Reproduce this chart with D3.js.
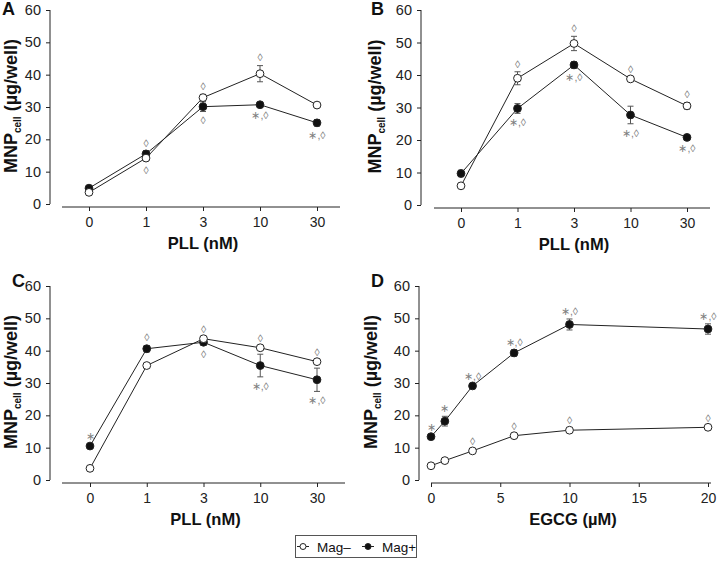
<!DOCTYPE html>
<html><head><meta charset="utf-8">
<script src="https://cdn.jsdelivr.net/npm/d3@7/dist/d3.min.js"></script>
<style>body{margin:0;background:#fff} svg{display:block;font-family:"Liberation Sans",Arial,sans-serif}</style>
</head><body><svg id="c" width="717" height="562"></svg>
<script>
// ---------- data ----------
const pllCategories = ["0", "1", "3", "10", "30"];
const egcgDoses = [0, 1, 3, 6, 10, 20];
const yTickValues = [0, 10, 20, 30, 40, 50, 60];
const egcgTickValues = [0, 5, 10, 15, 20];
const seriesNames = ["Mag\u2013", "Mag+"];

// Panel A
const A_open = [3.6, 14.2, 32.9, 40.3, 30.6];
const A_openErr = [0.3, 0.8, 1.0, 2.5, 0.5];
const A_filled = [4.9, 15.5, 30.1, 30.7, 25.1];
const A_filledErr = [0.5, 1.0, 1.5, 0.5, 1.0];
const A_openAbove = ["", "", "\u25CA", "\u25CA", ""];
const A_openBelow = ["", "\u25CA", "", "", ""];
const A_filledAbove = ["", "\u25CA", "", "", ""];
const A_filledBelow = ["", "", "\u25CA", "*,\u25CA", "*,\u25CA"];

// Panel B
const B_open = [5.9, 39.0, 49.7, 38.8, 30.5];
const B_openErr = [0.5, 2.0, 2.2, 0.5, 1.0];
const B_filled = [9.7, 29.7, 43.1, 27.7, 20.8];
const B_filledErr = [1.0, 1.5, 1.0, 2.7, 0.5];
const B_openAbove = ["", "\u25CA", "\u25CA", "\u25CA", "\u25CA"];
const B_openBelow = ["", "", "", "", ""];
const B_filledAbove = ["", "", "", "", ""];
const B_filledBelow = ["", "*,\u25CA", "*,\u25CA", "*,\u25CA", "*,\u25CA"];

// Panel C
const C_open = [3.6, 35.4, 43.7, 40.9, 36.6];
const C_openErr = [0.3, 0.5, 0.5, 0.5, 0.5];
const C_filled = [10.5, 40.6, 42.6, 35.4, 31.0];
const C_filledErr = [0.5, 1.0, 1.0, 3.5, 3.6];
const C_openAbove = ["", "", "\u25CA", "\u25CA", "\u25CA"];
const C_openBelow = ["", "", "", "", ""];
const C_filledAbove = ["*", "\u25CA", "", "", ""];
const C_filledBelow = ["", "", "\u25CA", "*,\u25CA", "*,\u25CA"];

// Panel D
const D_open = [4.4, 6.0, 9.0, 13.7, 15.4, 16.3];
const D_openErr = [0.3, 0.3, 0.5, 0.5, 0.5, 0.5];
const D_filled = [13.4, 18.2, 29.1, 39.3, 48.1, 46.7];
const D_filledErr = [0.5, 1.5, 0.5, 1.0, 1.7, 1.6];
const D_openAbove = ["", "", "\u25CA", "\u25CA", "\u25CA", "\u25CA"];
const D_openBelow = ["", "", "", "", "", ""];
const D_filledAbove = ["*", "*", "*,\u25CA", "*,\u25CA", "*,\u25CA", "*,\u25CA"];
const D_filledBelow = ["", "", "", "", "", ""];

// ---------- drawing ----------
const svg = d3.select("#c");
const LINE = "#222", ERR = "#555", ANN = "#808080";

const panels = [
  {letter: "A", lx: 2, ly: 15, ax: 50, y0: 204, y60: 10, xy: 207, xl0: 62, xl1: 340, xr: [89, 317],
   xTitle: "PLL (nM)", titleX: 17, cats: pllCategories,
   open: A_open, openErr: A_openErr, filled: A_filled, filledErr: A_filledErr,
   oa: A_openAbove, ob: A_openBelow, fa: A_filledAbove, fb: A_filledBelow},
  {letter: "B", lx: 371, ly: 15, ax: 421, y0: 205, y60: 10, xy: 208, xl0: 434, xl1: 710, xr: [461, 687],
   xTitle: "PLL (nM)", titleX: 381, cats: pllCategories,
   open: B_open, openErr: B_openErr, filled: B_filled, filledErr: B_filledErr,
   oa: B_openAbove, ob: B_openBelow, fa: B_filledAbove, fb: B_filledBelow},
  {letter: "C", lx: 12, ly: 287, ax: 50, y0: 480, y60: 286, xy: 483, xl0: 62, xl1: 345, xr: [90, 317],
   xTitle: "PLL (nM)", titleX: 17, cats: pllCategories,
   open: C_open, openErr: C_openErr, filled: C_filled, filledErr: C_filledErr,
   oa: C_openAbove, ob: C_openBelow, fa: C_filledAbove, fb: C_filledBelow},
  {letter: "D", lx: 371, ly: 287, ax: 419, y0: 480, y60: 286, xy: 483, xl0: 431, xl1: 711, xr: [431, 708],
   xTitle: "EGCG (\u00B5M)", titleX: 377, doses: egcgDoses,
   open: D_open, openErr: D_openErr, filled: D_filled, filledErr: D_filledErr,
   oa: D_openAbove, ob: D_openBelow, fa: D_filledAbove, fb: D_filledBelow}
];

const fmtAnn = s => s.replace("*", "\u2217");

panels.forEach(p => {
  const g = svg.append("g");
  const y = d3.scaleLinear().domain([0, 60]).range([p.y0, p.y60]);
  let x, xAxis;
  if (p.cats) {
    x = d3.scalePoint().domain(p.cats).range(p.xr);
    xAxis = d3.axisBottom(x);
  } else {
    x = d3.scaleLinear().domain([0, 20]).range(p.xr);
    xAxis = d3.axisBottom(x).tickValues(egcgTickValues).tickFormat(d3.format("d"));
  }

  // y axis
  const ya = g.append("g").attr("transform", `translate(${p.ax},0)`)
    .call(d3.axisLeft(y).tickValues(yTickValues).tickSize(4).tickSizeOuter(0).tickPadding(5));
  ya.select(".domain").remove();
  ya.append("line").attr("x1", 0).attr("x2", 0).attr("y1", y(0)).attr("y2", y(60)).attr("stroke", LINE);
  ya.selectAll(".tick line").attr("stroke", LINE);
  ya.selectAll(".tick text").attr("fill", "#222").style("font-size", "14.5px").style("font-family", "'Liberation Sans',Arial,sans-serif");

  // x axis
  const xa = g.append("g").attr("transform", `translate(0,${p.xy})`)
    .call(xAxis.tickSize(4).tickSizeOuter(0).tickPadding(6));
  xa.select(".domain").remove();
  xa.append("line").attr("x1", p.xl0).attr("x2", p.xl1).attr("y1", 0).attr("y2", 0).attr("stroke", LINE);
  xa.selectAll(".tick line").attr("stroke", LINE);
  xa.selectAll(".tick text").attr("fill", "#222").style("font-size", "14px").style("font-family", "'Liberation Sans',Arial,sans-serif");

  // titles
  g.append("text").attr("x", (p.xl0 + p.xl1) / 2 + 2).attr("y", p.xy + 42)
    .attr("text-anchor", "middle").attr("font-size", 16.5).attr("font-weight", "bold").attr("fill", "#111")
    .text(p.xTitle);
  const yt = g.append("text")
    .attr("transform", `translate(${p.titleX},${(p.y0 + p.y60) / 2 - 1}) rotate(-90)`)
    .attr("text-anchor", "middle").attr("font-size", 18).attr("font-weight", "bold").attr("fill", "#111");
  yt.append("tspan").text("MNP");
  yt.append("tspan").attr("font-size", 10).attr("dy", 4).text("cell");
  yt.append("tspan").attr("dy", -4).text(" (\u00B5g/well)");

  g.append("text").attr("x", p.lx).attr("y", p.ly).attr("font-size", 18).attr("font-weight", "bold")
    .attr("fill", "#111").text(p.letter);

  const xpos = i => p.cats ? x(p.cats[i]) : x(p.doses[i]);
  const line = d3.line().x((d, i) => xpos(i)).y(d => y(d));

  const series = [
    {vals: p.filled, err: p.filledErr, fill: "#111", above: p.fa, below: p.fb},
    {vals: p.open, err: p.openErr, fill: "#fff", above: p.oa, below: p.ob}
  ];
  series.forEach(s => {
    g.append("path").datum(s.vals).attr("d", line).attr("fill", "none").attr("stroke", LINE).attr("stroke-width", 1);
  });
  series.forEach(s => {
    s.vals.forEach((v, i) => {
      const cx = xpos(i), e = s.err[i];
      g.append("line").attr("x1", cx).attr("x2", cx).attr("y1", y(v - e)).attr("y2", y(v + e)).attr("stroke", ERR);
      [v - e, v + e].forEach(t => g.append("line").attr("x1", cx - 3).attr("x2", cx + 3)
        .attr("y1", y(t)).attr("y2", y(t)).attr("stroke", ERR));
    });
  });
  series.forEach(s => {
    g.selectAll(null).data(s.vals).join("circle")
      .attr("cx", (d, i) => xpos(i)).attr("cy", d => y(d)).attr("r", 3.9)
      .attr("fill", s.fill).attr("stroke", LINE).attr("stroke-width", 1);
    s.vals.forEach((v, i) => {
      const cx = xpos(i), e = s.err[i];
      if (s.above[i]) g.append("text").attr("x", cx).attr("y", y(v + e) - 7.5).attr("dy", "0.32em")
        .attr("text-anchor", "middle").attr("font-size", 10.5).attr("fill", ANN).text(fmtAnn(s.above[i]));
      if (s.below[i]) g.append("text").attr("x", cx).attr("y", y(v - e) + 9.5).attr("dy", "0.32em")
        .attr("text-anchor", "middle").attr("font-size", 10.5).attr("fill", ANN).text(fmtAnn(s.below[i]));
    });
  });
});

// legend
const lg = svg.append("g");
lg.append("rect").attr("x", 295.5).attr("y", 535.5).attr("width", 121).attr("height", 22)
  .attr("fill", "#fff").attr("stroke", "#555");
const legendItems = [{name: seriesNames[0], fill: "#fff", x: 303}, {name: seriesNames[1], fill: "#111", x: 368}];
legendItems.forEach(it => {
  lg.append("line").attr("x1", it.x - 6).attr("x2", it.x + 6).attr("y1", 546.5).attr("y2", 546.5).attr("stroke", LINE);
  lg.append("circle").attr("cx", it.x).attr("cy", 546.5).attr("r", 3).attr("fill", it.fill).attr("stroke", LINE);
  lg.append("text").attr("x", it.x + 14).attr("y", 551.5).attr("font-size", 13.5).attr("fill", "#111").text(it.name);
});
</script></body></html>
